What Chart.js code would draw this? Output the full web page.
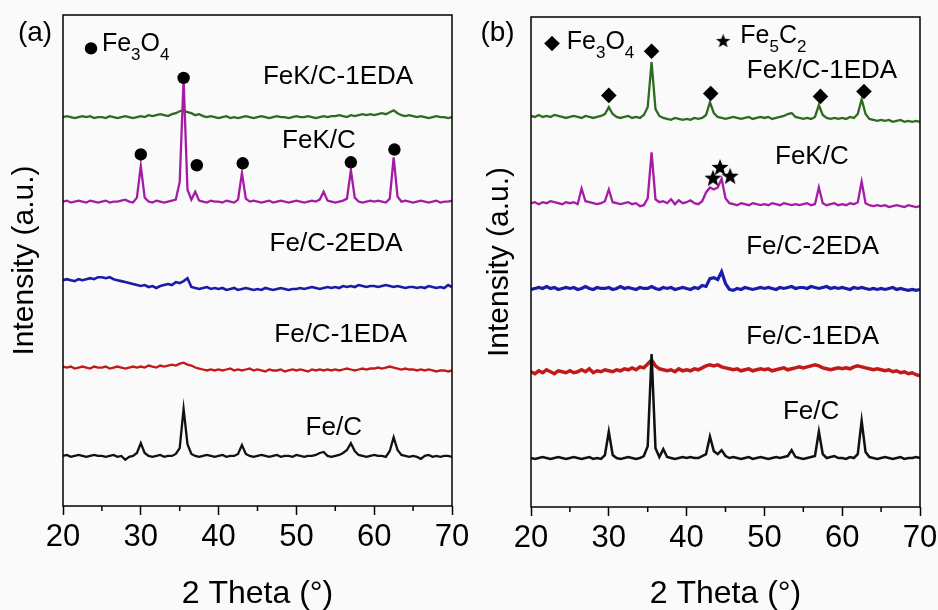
<!DOCTYPE html>
<html>
<head>
<meta charset="utf-8">
<script src="https://cdn.jsdelivr.net/npm/chart.js@4.4.0/dist/chart.umd.min.js"></script>
<style>
  html, body { margin: 0; padding: 0; background: #fafafa; }
  #wrap { position: relative; width: 938px; height: 610px; }
  canvas { position: absolute; top: 0; }
  #panelA { left: 0; }
  #panelB { left: 469px; }
</style>
</head>
<body>
<div id="wrap">
  <canvas id="panelA" width="469" height="610"></canvas>
  <canvas id="panelB" width="469" height="610"></canvas>
</div>
<script>
// Sample order runs bottom to top in both panels
const sampleNames = ['Fe/C', 'Fe/C-1EDA', 'Fe/C-2EDA', 'FeK/C', 'FeK/C-1EDA'];
const sampleColors = ['#111111', '#c21919', '#1b1ba6', '#a41ca4', '#2e6a1f'];

// 2θ grid: 20–70° in 0.5° steps
const twoTheta = Array.from({ length: 101 }, (_, i) => 20 + i * 0.5);
const xTicks = [20, 30, 40, 50, 60, 70];
const minorTicks = [25, 35, 45, 55, 65];

// Panel (a) patterns, counts in a.u. (rows of ten = 5° each)
const aFeC = [
  10, 11, 9, 10, 11, 10, 9, 10, 11, 10,
  10, 9, 10, 11, 9, 10, 6, 9, 10, 13,
  23, 13, 10, 9, 10, 11, 9, 10, 10, 12,
  18, 58, 22, 12, 10, 9, 10, 11, 10, 9,
  10, 11, 9, 10, 10, 12, 21, 12, 10, 9,
  10, 11, 10, 9, 10, 11, 9, 10, 10, 9,
  11, 10, 9, 10, 10, 11, 13, 14, 10, 9,
  10, 11, 13, 16, 23, 15, 11, 10, 9, 10,
  11, 10, 10, 9, 15, 29, 16, 11, 10, 9,
  10, 9, 7, 10, 11, 9, 10, 9, 10, 10,
  9];
const aFeC1EDA = [
  14, 13, 14, 12, 13, 14, 13, 12, 14, 13,
  13, 14, 12, 13, 14, 13, 12, 13, 14, 13,
  14, 13, 15, 14, 13, 15, 14, 15, 16, 15,
  17, 18, 16, 15, 13, 12, 11, 10, 11, 10,
  11, 10, 11, 12, 10, 11, 10, 11, 12, 10,
  11, 10, 9, 11, 10, 10, 11, 9, 10, 11,
  10, 11, 10, 9, 11, 10, 11, 10, 11, 10,
  11, 10, 11, 12, 11, 10, 11, 12, 11, 12,
  12, 13, 12, 13, 14, 13, 12, 11, 12, 11,
  11, 10, 11, 10, 11, 10, 9, 10, 10, 9,
  10];
const aFeC2EDA = [
  18, 19, 18, 17, 19, 18, 19, 20, 19, 21,
  21, 20, 21, 19, 18, 17, 16, 15, 14, 13,
  12, 13, 11, 12, 10, 12, 13, 14, 13, 16,
  15, 17, 20, 11, 10, 9, 10, 11, 9, 10,
  9, 10, 8, 9, 10, 8, 9, 10, 9, 8,
  9, 8, 10, 9, 8, 9, 10, 9, 8, 9,
  9, 10, 9, 10, 11, 10, 9, 10, 11, 10,
  11, 10, 12, 11, 12, 11, 13, 12, 11, 12,
  12, 11, 12, 13, 12, 11, 12, 11, 10, 11,
  11, 10, 11, 10, 12, 11, 10, 11, 10, 13,
  11];
const aFeKC = [
  10, 11, 9, 10, 11, 10, 9, 11, 10, 9,
  10, 11, 9, 10, 10, 11, 12, 10, 9, 14,
  46, 14, 10, 9, 11, 10, 9, 10, 11, 12,
  30, 134, 22, 12, 20, 11, 10, 9, 11, 10,
  10, 9, 11, 10, 9, 12, 39, 13, 10, 11,
  10, 9, 10, 11, 9, 10, 11, 10, 9, 10,
  11, 10, 9, 10, 11, 10, 12, 20, 11, 10,
  9, 10, 11, 13, 42, 14, 10, 9, 10, 11,
  10, 11, 10, 9, 13, 55, 15, 10, 11, 10,
  9, 10, 11, 10, 9, 10, 11, 9, 10, 10,
  11];
const aFeKC1EDA = [
  10, 11, 10, 9, 10, 11, 10, 11, 9, 10,
  10, 9, 11, 10, 9, 10, 11, 10, 9, 10,
  11, 10, 12, 11, 12, 13, 12, 11, 13, 14,
  16, 17, 15, 14, 12, 13, 11, 10, 11, 10,
  9, 10, 11, 9, 10, 9, 10, 11, 10, 9,
  10, 11, 10, 9, 10, 11, 10, 10, 9, 10,
  11, 10, 10, 11, 10, 9, 10, 11, 10, 11,
  11, 12, 11, 10, 12, 11, 12, 13, 12, 13,
  12, 13, 14, 13, 15, 17, 14, 12, 11, 12,
  11, 10, 11, 10, 9, 10, 11, 10, 10, 9,
  10];

// Panel (b) patterns
const bFeC = [
  10, 9, 10, 11, 10, 9, 10, 11, 10, 9,
  10, 11, 10, 9, 10, 11, 9, 10, 9, 13,
  37, 13, 10, 9, 10, 11, 10, 9, 10, 12,
  22, 116, 20, 11, 19, 11, 10, 9, 10, 11,
  10, 11, 10, 10, 12, 14, 32, 17, 14, 18,
  12, 10, 11, 10, 9, 10, 11, 9, 10, 11,
  10, 9, 10, 11, 10, 11, 12, 18, 11, 10,
  9, 10, 11, 12, 37, 14, 10, 11, 12, 10,
  10, 9, 11, 10, 14, 48, 16, 11, 10, 9,
  10, 11, 10, 9, 10, 11, 9, 10, 10, 11,
  10];
const bFeC1EDA = [
  10, 8, 11, 9, 12, 10, 8, 11, 10, 9,
  11, 9, 10, 12, 10, 13, 9, 11, 10, 12,
  11, 10, 12, 11, 13, 12, 14, 12, 15, 14,
  18, 22, 16, 13, 12, 11, 12, 10, 13, 11,
  12, 11, 13, 12, 14, 16, 17, 16, 17, 15,
  14, 13, 12, 13, 11, 12, 13, 11, 12, 13,
  12, 13, 11, 12, 13, 14, 12, 13, 14, 15,
  14, 15, 16, 17, 16, 14, 13, 12, 13, 14,
  13, 14, 13, 15, 16, 15, 14, 13, 12, 13,
  12, 11, 12, 10, 11, 9, 10, 8, 9, 7,
  6];
const bFeC2EDA = [
  9, 10, 11, 10, 12, 10, 11, 9, 10, 11,
  10, 11, 9, 10, 12, 10, 9, 11, 10, 10,
  11, 9, 10, 12, 10, 11, 10, 9, 11, 10,
  10, 12, 10, 9, 11, 10, 11, 9, 10, 11,
  10, 9, 11, 10, 13, 12, 20, 21, 19, 27,
  15, 9, 8, 10, 9, 11, 10, 9, 10, 11,
  10, 11, 10, 9, 11, 10, 11, 12, 10, 11,
  11, 10, 12, 11, 10, 11, 12, 10, 11, 10,
  11, 10, 9, 11, 10, 11, 10, 9, 10, 9,
  10, 9, 10, 11, 9, 10, 9, 8, 9, 8,
  9];
const bFeKC = [
  10, 11, 9, 11, 10, 12, 11, 10, 9, 11,
  10, 11, 9, 25, 12, 11, 10, 9, 10, 12,
  24, 11, 10, 9, 10, 11, 9, 10, 7, 8,
  15, 62, 14, 11, 12, 10, 14, 9, 13, 10,
  11, 13, 10, 9, 12, 21, 26, 24, 26, 35,
  15, 10, 9, 8, 10, 9, 8, 10, 9, 8,
  9, 8, 10, 9, 8, 10, 9, 8, 9, 8,
  9, 10, 8, 9, 26, 10, 8, 9, 10, 8,
  9, 8, 10, 9, 11, 32, 10, 8, 7, 8,
  7, 8, 6, 7, 8, 7, 6, 8, 7, 6,
  7];
const bFeKC1EDA = [
  11, 10, 12, 10, 11, 10, 12, 11, 10, 9,
  10, 11, 10, 9, 11, 10, 9, 10, 11, 13,
  20, 13, 10, 9, 10, 11, 9, 10, 9, 12,
  20, 66, 18, 11, 9, 8, 7, 9, 8, 7,
  8, 7, 9, 8, 9, 12, 25, 14, 10, 9,
  8, 9, 10, 9, 8, 9, 10, 8, 9, 10,
  9, 10, 8, 9, 10, 11, 13, 14, 10, 9,
  8, 9, 8, 10, 22, 12, 9, 8, 9, 8,
  9, 8, 10, 9, 13, 28, 13, 8, 7, 6,
  7, 6, 7, 5, 6, 7, 5, 6, 5, 6,
  5];

// Vertical stacking offsets for each pattern
const offsetsA = [41, 128, 212, 300, 386];
const offsetsB = [40, 128, 213, 300, 388];

// Phase markers [2θ, stacked height]
const fe3o4MarksA = [[30.0, 358], [35.5, 436], [37.2, 347], [43.1, 349], [57.0, 350], [62.6, 363]];
const fe3o4MarksB = [[30.0, 420], [35.5, 465], [43.1, 422], [57.2, 419], [62.8, 424]];
const fe5c2MarksB = [[43.4, 336], [44.3, 347], [45.6, 338]];
const legendCircleA = [[23.6, 466]];
const legendDiamondB = [[22.7, 473]];
const legendStarB = [[44.7, 476]];

const family = '"Liberation Sans", Arial, Helvetica, sans-serif';

// filled five-point star used as a point style
function starImage(r) {
  const c = document.createElement('canvas');
  const s = Math.ceil(r * 2 + 2);
  c.width = c.height = s;
  const g = c.getContext('2d');
  g.translate(s / 2, s / 2 + r * 0.1);
  g.beginPath();
  for (let k = 0; k < 10; k++) {
    const rr = k % 2 ? r * 0.42 : r;
    const a = -Math.PI / 2 + k * Math.PI / 5;
    g.lineTo(rr * Math.cos(a), rr * Math.sin(a));
  }
  g.closePath();
  g.fillStyle = '#000';
  g.fill();
  return c;
}
const bigStar = starImage(9);
const smallStar = starImage(7.5);

// frame, minor ticks and text annotations
const decorPlugin = {
  id: 'decor',
  afterDraw(chart, args, opts) {
    const { ctx, chartArea: a, scales: { x, y } } = chart;
    ctx.save();
    ctx.strokeStyle = '#000';
    ctx.lineWidth = 1.5;
    ctx.strokeRect(a.left, a.top, a.right - a.left, a.bottom - a.top);
    ctx.beginPath();
    minorTicks.forEach(v => {
      const px = x.getPixelForValue(v);
      ctx.moveTo(px, a.bottom);
      ctx.lineTo(px, a.bottom + 5);
    });
    ctx.stroke();

    ctx.fillStyle = '#000';
    ctx.textBaseline = 'middle';
    opts.labels.forEach(l => {
      ctx.font = l.size + 'px ' + family;
      ctx.textAlign = 'center';
      ctx.fillText(l.text, x.getPixelForValue(l.x), y.getPixelForValue(l.y));
    });
    // chemical formulas, digits as subscripts
    ctx.textAlign = 'left';
    opts.formulas.forEach(f => {
      let px = x.getPixelForValue(f.x);
      const py = y.getPixelForValue(f.y);
      f.text.split(/(\d+)/).filter(Boolean).forEach(part => {
        const sub = /^\d+$/.test(part);
        ctx.font = (sub ? 17 : 25) + 'px ' + family;
        ctx.fillText(part, px, sub ? py + 11 : py);
        px += ctx.measureText(part).width;
      });
    });
    ctx.restore();
  }
};

function markerSet(points, style, radius) {
  return {
    type: 'scatter',
    data: points.map(([x, y]) => ({ x, y })),
    pointStyle: style,
    pointRadius: radius,
    pointBackgroundColor: '#000',
    pointBorderWidth: 0
  };
}

function makePanel(id, series, offsets, widths, markers, decor, frame) {
  const lines = series.map((vals, k) => ({
    type: 'line',
    label: sampleNames[k],
    data: twoTheta.map((t, i) => ({ x: t, y: vals[i] + offsets[k] })),
    borderColor: sampleColors[k],
    borderWidth: widths[k],
    pointRadius: 0,
    tension: 0,
    fill: false
  }));
  return new Chart(document.getElementById(id), {
    type: 'line',
    data: { datasets: markers.concat(lines) },
    options: {
      responsive: false,
      animation: false,
      devicePixelRatio: 1,
      layout: { padding: { left: 0, top: frame.top, right: frame.right, bottom: 0 } },
      plugins: { legend: { display: false }, tooltip: { enabled: false }, decor },
      scales: {
        x: {
          type: 'linear', min: 20, max: 70,
          afterBuildTicks: s => { s.ticks = xTicks.map(v => ({ value: v })); },
          afterFit: s => { s.height = frame.xHeight; s.paddingLeft = 0; s.paddingRight = 0; },
          ticks: { font: { family, size: 31 }, color: '#000', padding: 4, maxRotation: 0, autoSkip: false },
          grid: { drawOnChartArea: false, drawTicks: true, tickLength: 9, tickColor: '#000', tickWidth: 1.5 },
          border: { display: false },
          title: {
            display: true, text: '2 Theta (°)', color: '#000',
            font: { family, size: 32, lineHeight: 1 }, padding: { top: 0, bottom: 0 }
          }
        },
        y: {
          min: 0, max: 500,
          afterFit: s => { s.width = frame.left; },
          ticks: { display: false },
          grid: { display: false },
          border: { display: false },
          title: {
            display: true, text: 'Intensity (a.u.)', color: '#000',
            font: { family, size: 30, lineHeight: 1 }, padding: { top: frame.yTitlePad, bottom: 0 }
          }
        }
      }
    },
    plugins: [decorPlugin]
  });
}

makePanel('panelA',
  [aFeC, aFeC1EDA, aFeC2EDA, aFeKC, aFeKC1EDA], offsetsA, [2.3, 2.3, 2.6, 2.3, 2.3],
  [markerSet(fe3o4MarksA, 'circle', 6.2), markerSet(legendCircleA, 'circle', 6.2)],
  {
    labels: [
      { text: '(a)', x: 16.4, y: 481, size: 28 },
      { text: sampleNames[4], x: 55.35, y: 437, size: 26 },
      { text: sampleNames[3], x: 52.9, y: 372, size: 26 },
      { text: sampleNames[2], x: 55.1, y: 267, size: 26 },
      { text: sampleNames[1], x: 55.7, y: 174, size: 26 },
      { text: sampleNames[0], x: 54.8, y: 80, size: 26 }
    ],
    formulas: [{ text: 'Fe3O4', x: 25.0, y: 470 }]
  },
  { top: 15, right: 17, left: 63, xHeight: 104, yTitlePad: 10 });

makePanel('panelB',
  [bFeC, bFeC1EDA, bFeC2EDA, bFeKC, bFeKC1EDA], offsetsB, [2.5, 3.5, 3.2, 2.3, 2.3],
  [markerSet(fe3o4MarksB, 'rectRot', 7.8), markerSet(fe5c2MarksB, bigStar, 9),
   markerSet(legendDiamondB, 'rectRot', 7.8), markerSet(legendStarB, smallStar, 7.5)],
  {
    labels: [
      { text: '(b)', x: 15.7, y: 483, size: 28 },
      { text: sampleNames[4], x: 57.4, y: 445, size: 26 },
      { text: sampleNames[3], x: 56.1, y: 357, size: 26 },
      { text: sampleNames[2], x: 56.2, y: 265, size: 26 },
      { text: sampleNames[1], x: 56.2, y: 174, size: 26 },
      { text: sampleNames[0], x: 56.0, y: 97, size: 26 }
    ],
    formulas: [{ text: 'Fe3O4', x: 24.6, y: 474 }, { text: 'Fe5C2', x: 46.9, y: 480 }]
  },
  { top: 17, right: 18, left: 62, xHeight: 103, yTitlePad: 16 });
</script>
</body>
</html>
